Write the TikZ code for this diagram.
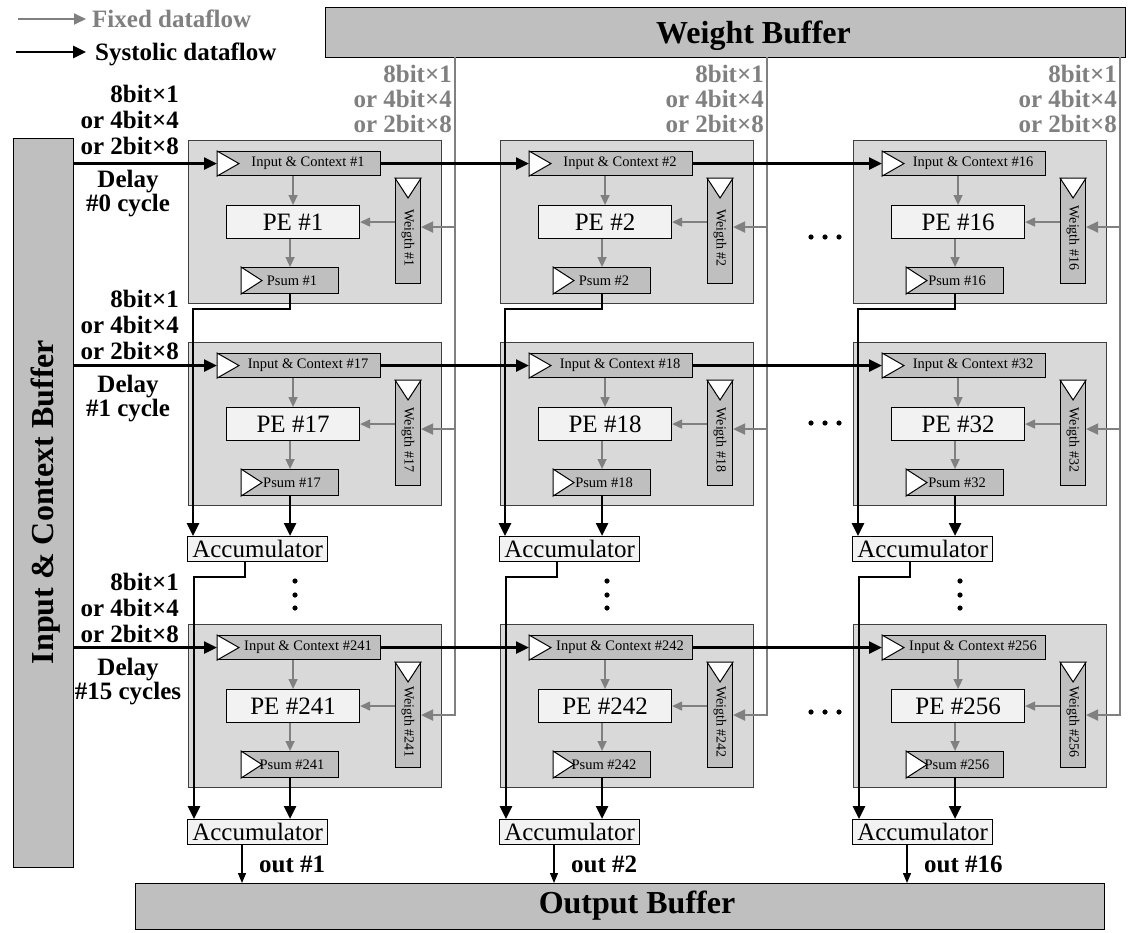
\documentclass[tikz,border=0pt]{standalone}
\usepackage{fontspec}
\setmainfont{Liberation Serif}
\usetikzlibrary{arrows.meta}
\definecolor{bufgray}{HTML}{BFBFBF}
\definecolor{tilegray}{HTML}{D9D9D9}
\definecolor{pefill}{HTML}{F2F2F2}
\definecolor{flowgray}{HTML}{808080}
\definecolor{edgegray}{HTML}{404040}
\tikzset{
  buf/.style={draw=black, line width=1.2pt, fill=bufgray, inner sep=0, anchor=north west},
  tile/.style={draw=edgegray, line width=1.2pt, fill=tilegray, inner sep=0, anchor=north west, minimum width=253pt, minimum height=163pt},
  inbox/.style={draw=black, line width=1.1pt, fill=bufgray, inner sep=0, anchor=north west},
  pebox/.style={draw=black, line width=1.1pt, fill=pefill, inner sep=0, anchor=north west, font=\fontsize{25}{25}\selectfont},
  tri/.style={draw=black, line width=1pt, fill=white},
  sys/.style={line width=2.6pt, -{Triangle[length=13pt,width=12pt]}},
  gline/.style={draw=flowgray, line width=2.2pt},
  garrow/.style={draw=flowgray, line width=2.2pt, -{Triangle[length=12pt,width=11pt]}},
  iarrow/.style={draw=flowgray, line width=1.4pt, -{Triangle[length=10pt,width=9pt]}},
  outarrow/.style={line width=1.3pt, -{Triangle[length=10pt,width=8pt]}},
  blab/.style={font=\fontsize{25}{25}\selectfont\bfseries, inner sep=0},
  glab/.style={blab, text=flowgray},
  small/.style={font=\fontsize{14.5}{14.5}\selectfont, inner sep=0},
  big/.style={font=\fontsize{32}{32}\selectfont\bfseries, inner sep=0}
}
\begin{document}
\begin{tikzpicture}[x=1pt,y=-1pt]
\useasboundingbox (0,0) rectangle (1131,932);
\fill[white] (0,0) rectangle (1131,932);

% legend
\coordinate (lg1a) at (18,19);
\coordinate (lg1b) at (86,19);
\draw[garrow, line width=1.8pt] (lg1a) -- (lg1b);
\node[glab, anchor=base west] (lgt1) at (92,27) {Fixed dataflow};
\coordinate (lg2a) at (16,52);
\coordinate (lg2b) at (86,52);
\draw[sys] (lg2a) -- (lg2b);
\node[blab, anchor=base west] (lgt2) at (95,60) {Systolic dataflow};

% buffers
\node[buf, minimum width=800pt, minimum height=50pt] (wbuf) at (325,7) {};
\node[big, anchor=base west] (wbuft) at (656,43) {Weight Buffer};
\node[buf, minimum width=60pt, minimum height=729pt] (ibuf) at (13,138) {};
\node[big, rotate=90, anchor=base] (ibuft) at (53,502) {Input \& Context Buffer};
\node[buf, minimum width=969pt, minimum height=46pt] (obuf) at (135,883) {};
\node[big] (obuft) at (637,906) {Output Buffer};

% row labels
\foreach \r/\b/\dl in {1/102/{\#0 cycle},2/307/{\#1 cycle},3/590/{\#15 cycles}}{
  \node[blab, anchor=base east] (la-\r) at (179,\b) {8bit×1};
  \node[blab, anchor=base east] (lb-\r) at (179,{\b+26}) {or 4bit×4};
  \node[blab, anchor=base east] (lc-\r) at (179,{\b+52}) {or 2bit×8};
  \node[blab, anchor=base] (ld-\r) at (128,{\b+85}) {Delay};
  \node[blab, anchor=base] (le-\r) at (128,{\b+109}) {\dl};
}

% tiles
\foreach \c/\x/\k in {1/188/1,2/500/2,3/853/16}{
  \foreach \r/\y/\o in {1/140/0,2/342/16,3/624/240}{
    \pgfmathtruncatemacro{\n}{\k+\o}
    \node[tile] (t-\c-\r) at (\x,\y) {};
    \node[inbox, minimum width=163pt, minimum height=24pt] (in-\c-\r) at ({\x+29},{\y+11}) {};
    \draw[tri] (in-\c-\r.north west) -- ([xshift=22pt]in-\c-\r.west) -- (in-\c-\r.south west) -- cycle;
    \node[small] (int-\c-\r) at ([xshift=9pt]in-\c-\r.center) {Input \& Context \#\n};
    \node[pebox, minimum width=133pt, minimum height=33pt] (pe-\c-\r) at ({\x+38},{\y+65}) {PE \#\n};
    \node[inbox, minimum width=97pt, minimum height=26pt] (ps-\c-\r) at ({\x+53},{\y+127}) {};
    \draw[tri] (ps-\c-\r.north west) -- ([xshift=21pt]ps-\c-\r.west) -- (ps-\c-\r.south west) -- cycle;
    \node[small] (pst-\c-\r) at ([xshift=2pt]ps-\c-\r.center) {Psum \#\n};
    \node[inbox, minimum width=25pt, minimum height=105pt] (wt-\c-\r) at ({\x+207},{\y+38}) {};
    \draw[tri] (wt-\c-\r.north west) -- ([yshift=-20pt]wt-\c-\r.north) -- (wt-\c-\r.north east) -- cycle;
    \node[small, font=\fontsize{14}{14}\selectfont, rotate=-90] (wtt-\c-\r) at ([yshift=-7pt]wt-\c-\r.center) {Weigth \#\n};
    \draw[iarrow] (in-\c-\r.south -| pe-\c-\r.north) -- (pe-\c-\r.north);
    \draw[iarrow] (pe-\c-\r.south -| ps-\c-\r.north) -- (ps-\c-\r.north);
    \draw[iarrow] (wt-\c-\r.west |- pe-\c-\r.east) -- (pe-\c-\r.east);
  }
  % weight lines
  \coordinate (wl-\c) at ({\x+267},57);
  \draw[garrow] (wl-\c) |- (wt-\c-3.east);
  \foreach \r in {1,2}{
    \coordinate (wa-\c-\r) at ([yshift=4pt]wt-\c-\r.east);
    \draw[garrow] (wa-\c-\r -| wl-\c) -- (wa-\c-\r);
  }
  % gray labels
  \node[glab, anchor=base east] (ga-\c) at ({\x+264},82) {8bit×1};
  \node[glab, anchor=base east] (gb-\c) at ({\x+264},107) {or 4bit×4};
  \node[glab, anchor=base east] (gc-\c) at ({\x+264},132) {or 2bit×8};
  % accumulators
  \node[pebox, minimum width=140pt, minimum height=25pt] (acc-\c-2) at ({\x-1},536) {Accumulator};
  \node[pebox, minimum width=140pt, minimum height=25pt] (acc-\c-3) at ({\x-1},819) {Accumulator};
  \coordinate (al-\c-2) at ([xshift=6pt]acc-\c-2.north west);
  \coordinate (al-\c-3) at ([xshift=7pt]acc-\c-3.north west);
  \coordinate (ao-\c) at ([xshift=58pt]acc-\c-2.south west);
  \draw[sys] (ps-\c-1.south) -- ++(0,15) -| (al-\c-2);
  \draw[sys] (ps-\c-2.south) -- (ps-\c-2.south |- acc-\c-2.north);
  \draw[sys] (ao-\c) -- ++(0,15) -| (al-\c-3);
  \draw[sys] (ps-\c-3.south) -- (ps-\c-3.south |- acc-\c-3.north);
  \coordinate (oo-\c) at ([xshift=55pt]acc-\c-3.south west);
  \draw[outarrow] (oo-\c) -- (oo-\c |- obuf.north);
  \node[blab, anchor=base west] (out-\c) at ({\x+71},872) {out \#\k};
  % vertical dots
  \foreach \dy in {581,595,608}{
    \fill ({\x+107},\dy) circle (2.6pt);
  }
}

% systolic input lines
\foreach \r in {1,2,3}{
  \draw[sys] (ibuf.east |- in-1-\r.west) -- (in-1-\r.west);
  \draw[sys] (in-1-\r.east) -- (in-2-\r.west);
  \draw[sys] (in-2-\r.east) -- (in-3-\r.west);
}

% horizontal dots
\foreach \hy in {237,423,712}{
  \foreach \dx in {811,825,839}{
    \fill (\dx,\hy) circle (2.6pt);
  }
}
\end{tikzpicture}
\end{document}
